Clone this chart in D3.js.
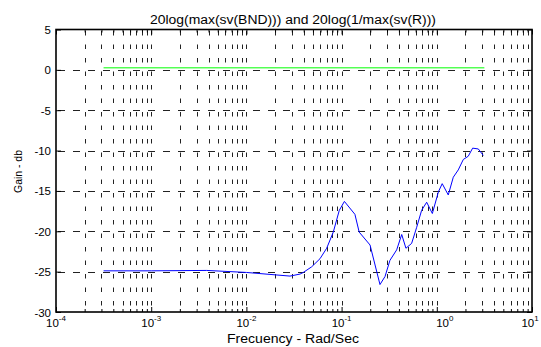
<!DOCTYPE html>
<html>
<head>
<meta charset="utf-8">
<script src="https://cdn.jsdelivr.net/npm/d3@7"></script>
<style>
  body { margin: 0; background: #fff; }
  svg { font-family: Arial, "Liberation Sans", sans-serif; }
</style>
</head>
<body>
<svg id="chart"></svg>
<script>
// frequency (rad/s) and gain (dB)
const freqBlue = [0.000316, 0.001, 0.00383, 0.01, 0.0287, 0.0366, 0.0396, 0.0485, 0.0593,
  0.0697, 0.0818, 0.0946, 0.107, 0.138, 0.153, 0.199, 0.253, 0.286, 0.322, 0.379, 0.428,
  0.474, 0.544, 0.615, 0.693, 0.783, 0.898, 1.04, 1.14, 1.32, 1.49, 1.68, 1.90, 2.14,
  2.38, 2.73, 3.08]
const gainBlue = [-24.9, -24.9, -24.85, -25.1, -25.55, -25.3, -25.1, -24.4, -23.4,
  -22.1, -20.1, -17.4, -16.3, -17.9, -20.1, -21.7, -26.6, -25.6, -23.6, -22.3, -20.4,
  -22.1, -21.5, -19.5, -17.4, -16.4, -17.8, -15.1, -14.1, -15.5, -13.3, -12.4, -11.1, -10.7,
  -9.7, -9.8, -10.6]
const freqGreen = [0.000316, 3.16]
const gainGreen = [0.25, 0.25]

const yTicks = [-30, -25, -20, -15, -10, -5, 0, 5]
const xDecades = [-4, -3, -2, -1, 0, 1]

const titleText = '20log(max(sv(BND))) and 20log(1/max(sv(R)))'
const xLabelText = 'Frecuency - Rad/Sec'
const yLabelText = 'Gain - db'

const width = 541
const height = 347
const margin = { top: 29.5, right: 9, bottom: 35, left: 56 }

const svg = d3.select('#chart').attr('width', width).attr('height', height)

const xScale = d3.scaleLog().domain([1e-4, 10]).range([margin.left, width - margin.right])
const yScale = d3.scaleLinear().domain([-30, 5]).range([height - margin.bottom, margin.top])

const x0 = margin.left
const x1 = width - margin.right
const y0 = margin.top
const y1 = height - margin.bottom

// minor positions 2..9 x each decade
const minorVals = []
xDecades.slice(0, -1).forEach((p) => {
  for (let k = 2; k <= 9; k++) minorVals.push(k * Math.pow(10, p))
})
const majorVals = xDecades.map((p) => Math.pow(10, p))

// grid
const grid = svg.append('g')
grid.selectAll('line.vg')
  .data(minorVals.concat(majorVals.slice(1, -1)))
  .enter()
  .append('line')
  .attr('x1', (d) => Math.round(xScale(d)) + 0.5)
  .attr('x2', (d) => Math.round(xScale(d)) + 0.5)
  .attr('y1', y0 + 1.5)
  .attr('y2', y1)
  .attr('stroke', '#222')
  .attr('stroke-width', 1)
  .attr('stroke-dasharray', '4.5,9')

grid.selectAll('line.hg')
  .data(yTicks.slice(1, -1))
  .enter()
  .append('line')
  .attr('x1', x0 + 2)
  .attr('x2', x1)
  .attr('y1', (d) => Math.round(yScale(d)) + 0.5)
  .attr('y2', (d) => Math.round(yScale(d)) + 0.5)
  .attr('stroke', '#222')
  .attr('stroke-width', 1)
  .attr('stroke-dasharray', '7,8')

// lines
const line = d3.line().x((d) => xScale(d[0])).y((d) => yScale(d[1]))

svg.append('path')
  .datum(d3.zip(freqGreen, gainGreen))
  .attr('d', line)
  .attr('fill', 'none')
  .attr('stroke', '#00ff00')
  .attr('stroke-width', 1)

svg.append('path')
  .datum(d3.zip(freqBlue, gainBlue))
  .attr('d', line)
  .attr('fill', 'none')
  .attr('stroke', '#0000ff')
  .attr('stroke-width', 1)

// axes: ticks pointing inward
const axisBot = d3.axisBottom(xScale).tickValues(majorVals).tickSizeInner(-5).tickSizeOuter(0).tickFormat('')
const axisBotMinor = d3.axisBottom(xScale).tickValues(minorVals).tickSizeInner(-3).tickSizeOuter(0).tickFormat('')
const axisTop = d3.axisTop(xScale).tickValues(majorVals).tickSizeInner(-5).tickSizeOuter(0).tickFormat('')
const axisTopMinor = d3.axisTop(xScale).tickValues(minorVals).tickSizeInner(-3).tickSizeOuter(0).tickFormat('')
const axisL = d3.axisLeft(yScale).tickValues(yTicks).tickSizeInner(-5).tickSizeOuter(0).tickFormat('')
const axisR = d3.axisRight(yScale).tickValues(yTicks).tickSizeInner(-5).tickSizeOuter(0).tickFormat('')

const axes = [
  [axisBot, `translate(0,${y1})`],
  [axisBotMinor, `translate(0,${y1})`],
  [axisTop, `translate(0,${y0})`],
  [axisTopMinor, `translate(0,${y0})`],
  [axisL, `translate(${x0},0)`],
  [axisR, `translate(${x1},0)`],
]
axes.forEach(([ax, tr]) => {
  const g = svg.append('g').attr('transform', tr).call(ax)
  g.select('.domain').remove()
  g.selectAll('line').attr('stroke', '#000')
})

// frame
svg.append('rect')
  .attr('x', x0)
  .attr('y', y0)
  .attr('width', x1 - x0)
  .attr('height', y1 - y0)
  .attr('fill', 'none')
  .attr('stroke', '#000')
  .attr('stroke-width', 1.6)

// y tick labels
svg.append('g')
  .selectAll('text')
  .data(yTicks)
  .enter()
  .append('text')
  .attr('x', x0 - 5)
  .attr('y', (d) => yScale(d) + 4.5)
  .attr('text-anchor', 'end')
  .style('font-size', '11.5px')
  .text((d) => d)

// x tick labels 10^p (Matlab keeps the last one inside the figure)
const xl = svg.append('g')
  .selectAll('text')
  .data(xDecades)
  .enter()
  .append('text')
  .attr('x', (d) => Math.min(xScale(Math.pow(10, d)) + (d < 0 ? 0 : 8), width - 11))
  .attr('y', y1 + 14.5)
  .attr('text-anchor', 'middle')
  .style('font-size', '11.5px')
xl.append('tspan').text('10')
xl.append('tspan')
  .attr('dy', -6)
  .style('font-size', '8px')
  .text((d) => (d < 0 ? '-' : '') + Math.abs(d))

// titles
svg.append('text')
  .attr('x', 293)
  .attr('y', 24)
  .attr('text-anchor', 'middle')
  .attr('textLength', 286)
  .attr('lengthAdjust', 'spacingAndGlyphs')
  .style('font-size', '12.5px')
  .text(titleText)

svg.append('text')
  .attr('x', 293)
  .attr('y', 343)
  .attr('text-anchor', 'middle')
  .attr('textLength', 132)
  .attr('lengthAdjust', 'spacingAndGlyphs')
  .style('font-size', '12.5px')
  .text(xLabelText)

svg.append('text')
  .attr('transform', `translate(22,171.5) rotate(-90)`)
  .attr('text-anchor', 'middle')
  .attr('textLength', 43)
  .attr('lengthAdjust', 'spacingAndGlyphs')
  .style('font-size', '11px')
  .text(yLabelText)
</script>
</body>
</html>
